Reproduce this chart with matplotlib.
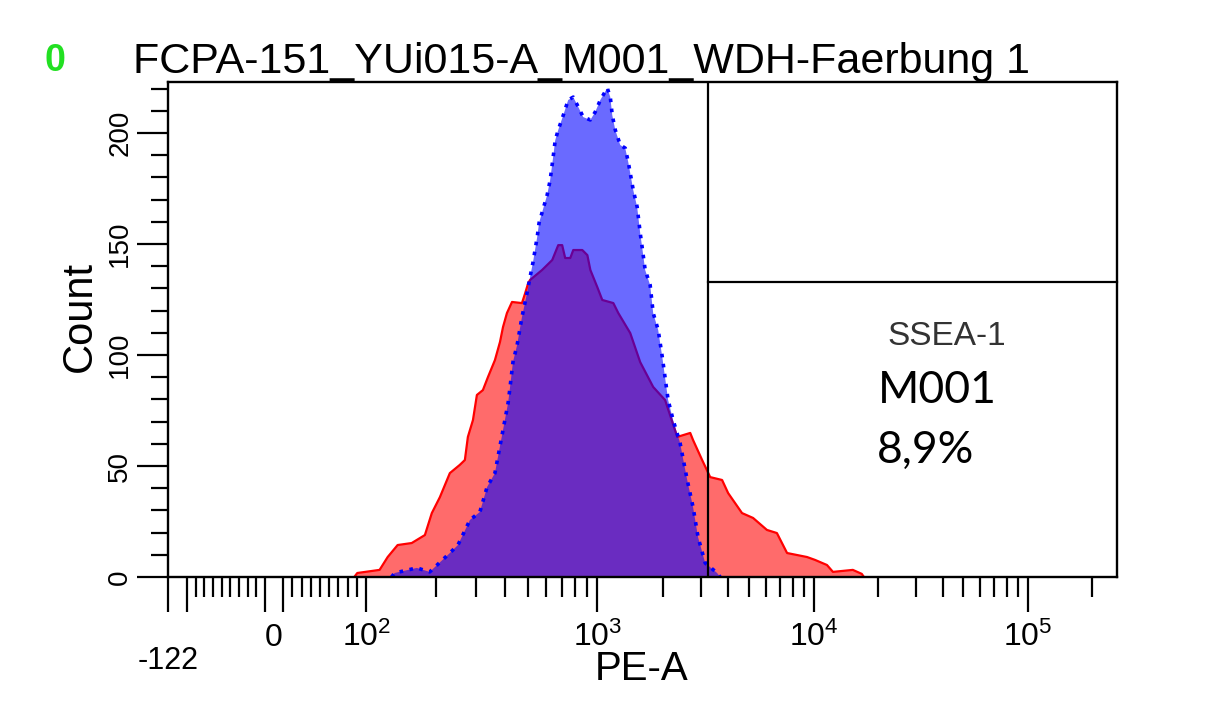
import numpy as np
import matplotlib
matplotlib.use("Agg")
import matplotlib.pyplot as plt

# ---------------- data ----------------
red_log = [1.94, 1.956, 2.058, 2.093, 2.136, 2.197, 2.254, 2.284, 2.319, 2.362, 2.405,
           2.427, 2.440, 2.462, 2.479, 2.505, 2.527, 2.557, 2.579, 2.592, 2.609, 2.631,
           2.674, 2.688, 2.701, 2.709, 2.761, 2.805, 2.831, 2.848, 2.861, 2.883, 2.896,
           2.935, 2.957, 2.970, 3.000, 3.023, 3.074, 3.097, 3.152, 3.198, 3.258, 3.313,
           3.369, 3.429, 3.442, 3.484, 3.521, 3.576, 3.604, 3.668, 3.719, 3.783, 3.829,
           3.876, 3.968, 4.005, 4.061, 4.089, 4.182, 4.224, 4.234]
red_count = [0, 1.8, 3.2, 9.0, 14.4, 15.3, 18.9, 28.8, 36.0, 46.8, 50.5,
             52.7, 63.1, 70.7, 82.0, 84.2, 90.1, 97.7, 105.9, 112.6, 118.9, 123.9,
             123.4, 127.9, 132.4, 133.8, 138.3, 142.8, 149.5, 149.5, 143.7, 143.7, 147.3,
             147.3, 145.0, 138.3, 130.6, 124.8, 123.4, 118.9, 109.9, 96.8, 85.6, 79.7,
             63.1, 64.9, 61.7, 52.7, 45.0, 43.7, 37.8, 28.8, 26.6, 21.2, 19.8,
             10.8, 9.0, 7.7, 5.4, 2.3, 3.2, 1.4, 0]

blue_log = [2.110, 2.123, 2.219, 2.275, 2.362, 2.397, 2.449, 2.492, 2.523, 2.557, 2.592,
            2.614, 2.622, 2.635, 2.653, 2.674, 2.696, 2.709, 2.722, 2.740, 2.748, 2.783,
            2.796, 2.809, 2.818, 2.831, 2.853, 2.874, 2.896, 2.918, 2.939, 2.970, 2.991,
            3.014, 3.046, 3.060, 3.069, 3.083, 3.106, 3.129, 3.143, 3.166, 3.184, 3.198,
            3.207, 3.221, 3.244, 3.258, 3.281, 3.300, 3.327, 3.350, 3.382, 3.415, 3.442,
            3.465, 3.498, 3.553, 3.567]
blue_count = [0, 1.8, 4.1, 2.3, 10.8, 14.4, 25.7, 29.3, 40.5, 46.8, 66.2,
              78.4, 85.1, 96.8, 104.5, 117.1, 127.9, 135.1, 141.9, 153.2, 159.5, 172.1,
              178.8, 189.2, 196.8, 201.4, 208.1, 214.9, 216.2, 211.7, 207.2, 205.9, 209.5,
              214.9, 220.3, 216.2, 208.1, 201.4, 194.6, 193.2, 186.9, 174.3, 166.7, 155.0,
              148.6, 138.3, 131.5, 118.9, 111.3, 99.1, 79.7, 70.7, 60.4, 43.7, 31.5,
              18.0, 6.3, 1.8, 0]

gate_x = 3250
gate_y = 133
x_range = (-122, 262144)
y_range = (0, 223)

y_major = [0, 50, 100, 150, 200]
y_labels = ["0", "50", "100", "150", "200"]
y_minor = [10, 20, 30, 40, 60, 70, 80, 90, 110, 120, 130, 140, 160, 170, 180, 190, 210, 220]

x_long = [-122, -100, -10, 10, 100, 1000, 10000, 100000]
x_short = ([-90, -80, -70, -60, -50, -40, -30, -20, 20, 30, 40, 50, 60, 70, 80, 90]
           + [m * 10 ** d for d in (2, 3, 4) for m in range(2, 10)] + [200000])
x_label_vals = [0, 100, 1000, 10000, 100000]
x_label_txt = ["0", r"$10^{2}$", r"$10^{3}$", r"$10^{4}$", r"$10^{5}$"]

title = "FCPA-151_YUi015-A_M001_WDH-Faerbung 1"

# ---------------- biexponential-like display scale ----------------
LA = [2, 3, 4, 5, 6, 9]
PA = [365.5, 597.0, 814.0, 1028.0, 1242.0, 1884.0]


def fwd(x):
    x = np.asarray(x, dtype=float)
    lx = np.log10(np.clip(x, 100, None))
    return np.where(x <= 0, 273 + 0.869 * x,
                    np.where(x <= 100, 273 + 0.925 * x, np.interp(lx, LA, PA)))


def inv(p):
    p = np.asarray(p, dtype=float)
    return np.where(p <= 273, (p - 273) / 0.869,
                    np.where(p <= 365.5, (p - 273) / 0.925, 10 ** np.interp(p, PA, LA)))


plt.rcParams["mathtext.fontset"] = "custom"
plt.rcParams["mathtext.rm"] = "Liberation Sans"
plt.rcParams["mathtext.it"] = "Liberation Sans"
plt.rcParams["font.family"] = ["Liberation Sans", "DejaVu Sans"]

W, H = 1207, 713
fig = plt.figure(figsize=(W / 100, H / 100), dpi=100)
ax = fig.add_axes([168 / W, 136 / H, 949 / W, 495 / H])
ax.set_xscale("function", functions=(fwd, inv))
ax.set_xlim(*x_range)
ax.set_ylim(*y_range)

rx = 10 ** np.array(red_log)
bx = 10 ** np.array(blue_log)
rc = np.array(red_count)
bc = np.array(blue_count)

ax.fill_between(rx, 0, rc, facecolor=(1.0, 0.42, 0.42), edgecolor="none", zorder=2)
ax.plot(rx, rc, color="#ff0000", lw=1.6, zorder=3)
ax.fill_between(bx, 0, bc, facecolor=(0, 0, 1.0), alpha=0.584, edgecolor="none", zorder=4)
ax.plot(bx, bc, color="#0000ff", lw=2.6, linestyle=(0, (1, 1.8)), zorder=5)

# gates
ax.axvline(gate_x, color="black", lw=1.6, zorder=6)
ax.plot([gate_x, x_range[1]], [gate_y, gate_y], color="black", lw=1.6, zorder=6,
        clip_on=False)

for s in ax.spines.values():
    s.set_linewidth(1.7)
    s.set_zorder(7)

# ticks
ax.set_xticks(x_long)
ax.set_xticks(x_short, minor=True)
ax.tick_params(axis="x", which="major", length=25, width=1.6, labelbottom=False)
ax.tick_params(axis="x", which="minor", length=14.5, width=1.6, labelbottom=False)
ax.set_yticks(y_major)
ax.set_yticks(y_minor, minor=True)
ax.set_yticklabels(y_labels, rotation=90, va="center", fontsize=20)
ax.tick_params(axis="y", which="major", length=22, width=1.6, pad=3)
ax.tick_params(axis="y", which="minor", length=12, width=1.6)

xt = ax.get_xaxis_transform()
for v, t in zip(x_label_vals, x_label_txt):
    ax.text(v, (577 - 646) / 495, t, transform=xt, ha="center", va="baseline",
            fontsize=23)
ax.text(-122, (577 - 669) / 495, "-122", transform=xt, ha="center", va="baseline",
        fontsize=22)

# axis labels & title
fig.text(642 / W, (H - 680) / H, "PE-A", ha="center", va="baseline", fontsize=29)
fig.text(80 / W, (H - 316) / H, "Count", ha="center", va="center", rotation=90, fontsize=30)
fig.text(133 / W, (H - 73) / H, title, ha="left", va="baseline", fontsize=31)
fig.text(44 / W, (H - 71) / H, "0", ha="left", va="baseline", fontsize=27,
         fontweight="bold", color="#22e022")

# gate annotations
ax.text((887 - 168) / 949, (577 - 345) / 495, "SSEA-1", transform=ax.transAxes,
        ha="left", va="baseline", fontsize=24, color="#333333")
ax.text((878 - 168) / 949, (577 - 403) / 495, "M001", transform=ax.transAxes,
        ha="left", va="baseline", fontsize=32, family=["Lato", "DejaVu Sans"])
ax.text((877 - 168) / 949, (577 - 463) / 495, "8,9%", transform=ax.transAxes,
        ha="left", va="baseline", fontsize=32, family=["Lato", "DejaVu Sans"])

fig.savefig("out.png", dpi=100)
